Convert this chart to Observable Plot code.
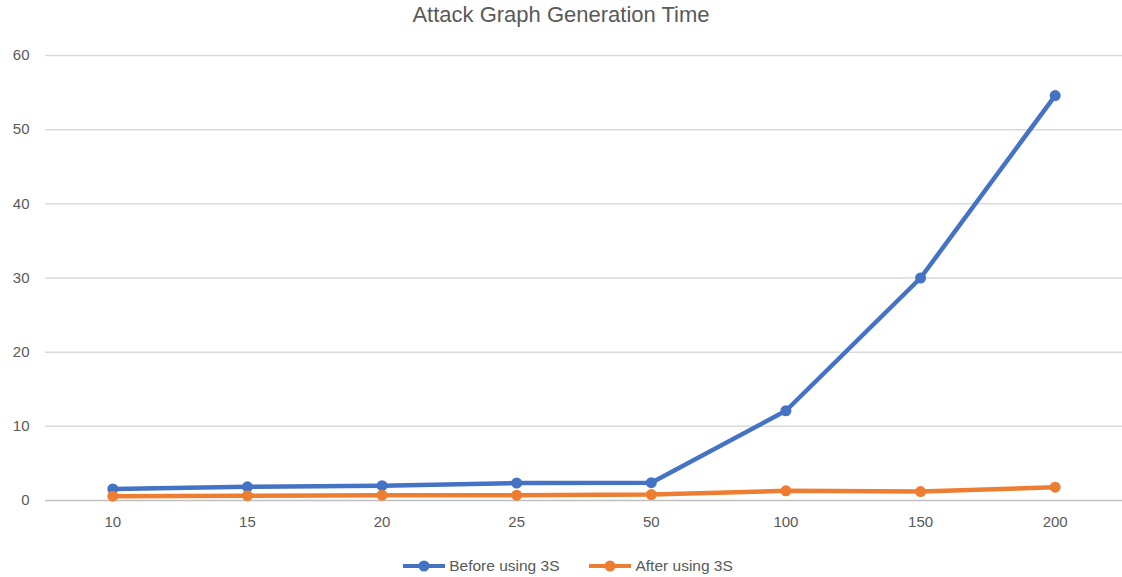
<!DOCTYPE html>
<html><head><meta charset="utf-8">
<script src="https://cdn.jsdelivr.net/npm/d3@7"></script>
<script src="https://cdn.jsdelivr.net/npm/@observablehq/plot@0.6"></script>
<style>
body{margin:0;background:#fff;font-family:"Liberation Sans",Arial,sans-serif;overflow:hidden;}
#title{height:32px;line-height:30px;text-align:center;font-size:22px;color:#595959;}
#legend{display:flex;justify-content:center;gap:28px;font-size:15.5px;color:#595959;margin-top:13px;margin-left:12px}
#legend span{display:flex;align-items:center;gap:2px}
</style></head>
<body>
<div id="title">Attack Graph Generation Time</div>
<div id="chart"></div>
<div id="legend"></div>
<script>
const categories = ["10","15","20","25","50","100","150","200"];
const seriesNames = ["Before using 3S","After using 3S"];
const before = [1.55, 1.85, 2.0, 2.35, 2.4, 12.1, 30.0, 54.6];
const after = [0.58, 0.65, 0.72, 0.72, 0.8, 1.3, 1.2, 1.8];
const colors = ["#4472C4","#ED7D31"];
const yTicks = [0,10,20,30,40,50,60];

const data = [];
categories.forEach((c,i)=>{
  data.push({x:c, y:before[i], s:seriesNames[0]});
  data.push({x:c, y:after[i], s:seriesNames[1]});
});

const plot = Plot.plot({
  width:1122, height:512,
  marginLeft:45, marginRight:0, marginTop:23, marginBottom:44,
  style:{fontFamily:"Liberation Sans, Arial, sans-serif", fontSize:"15px", color:"#595959"},
  x:{type:"point", domain:categories, padding:0.5, round:false, label:null, tickSize:0, tickPadding:16},
  y:{domain:[0,60], ticks:yTicks, label:null, tickSize:0, tickPadding:16},
  color:{domain:seriesNames, range:colors},
  marks:[
    Plot.ruleY(yTicks.filter(d=>d>0), {stroke:"#d9d9d9", strokeWidth:1.5, strokeOpacity:1}),
    Plot.ruleY([0], {stroke:"#bfbfbf", strokeWidth:1.5}),
    Plot.line(data, {x:"x", y:"y", z:"s", stroke:"s", strokeWidth:4.5, curve:"linear"}),
    Plot.dot(data, {x:"x", y:"y", fill:"s", r:5.5})
  ]
});
document.getElementById("chart").appendChild(plot);

const leg = document.getElementById("legend");
seriesNames.forEach((n,i)=>{
  const s = document.createElement("span");
  s.innerHTML = `<svg width="46" height="14"><line x1="2" y1="7" x2="44" y2="7" stroke="${colors[i]}" stroke-width="4"/><circle cx="23" cy="7" r="5.5" fill="${colors[i]}"/></svg>${n}`;
  leg.appendChild(s);
});
</script>
</body></html>
